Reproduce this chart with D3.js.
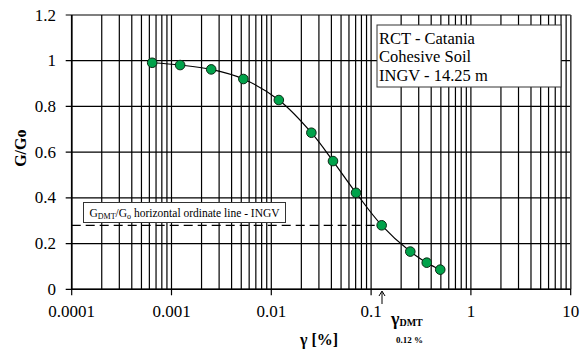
<!DOCTYPE html>
<html>
<head>
<meta charset="utf-8">
<script src="https://cdn.jsdelivr.net/npm/d3@7"></script>
<style>
  body { margin: 0; background: #fff; }
  svg text { font-family: "Liberation Serif", "DejaVu Serif", serif; }
</style>
</head>
<body>
<svg id="chart" width="587" height="352"></svg>
<script>
// shear strain (%) and normalized modulus from the RCT test
const strain = [0.00064, 0.00122, 0.0025, 0.00525, 0.0119, 0.0252, 0.0415, 0.0706, 0.1276, 0.247, 0.361, 0.493];
const modulus = [0.991, 0.981, 0.962, 0.920, 0.828, 0.685, 0.561, 0.422, 0.280, 0.165, 0.1165, 0.086];

const xTicks = [0.0001, 0.001, 0.01, 0.1, 1, 10];
const xTickLabels = ["0.0001", "0.001", "0.01", "0.1", "1", "10"];
const yTicks = [0, 0.2, 0.4, 0.6, 0.8, 1, 1.2];
const yTickLabels = ["0", "0.2", "0.4", "0.6", "0.8", "1", "1.2"];

const gammaDMT = 0.12;      // %
const ratioDMT = 0.28;      // G_DMT/Go

const legendLines = ["RCT - Catania", "Cohesive Soil", "INGV - 14.25 m"];

const serif = "Liberation Serif";

const svg = d3.select("#chart");

const x = d3.scaleLog().domain([0.0001, 10]).range([71.7, 570.7]);
const y = d3.scaleLinear().domain([0, 1.2]).range([289.3, 15]);

// vertical grid: every 1..9 of each decade
const vGrid = [];
for (let e = -4; e <= 0; e++) {
  for (let k = 1; k <= 9; k++) vGrid.push(k * Math.pow(10, e));
}
vGrid.push(10);

svg.append("g")
  .selectAll("line")
  .data(vGrid)
  .enter()
  .append("line")
  .attr("x1", d => x(d))
  .attr("x2", d => x(d))
  .attr("y1", y(1.2))
  .attr("y2", y(0))
  .attr("stroke", "#000")
  .attr("stroke-width", 1.2);

svg.append("g")
  .selectAll("line")
  .data(yTicks)
  .enter()
  .append("line")
  .attr("x1", x.range()[0] - 6)
  .attr("x2", x.range()[1])
  .attr("y1", d => y(d))
  .attr("y2", d => y(d))
  .attr("stroke", "#000")
  .attr("stroke-width", 1.2);

// plot frame
svg.append("line")
  .attr("x1", x.range()[1]).attr("x2", x.range()[1])
  .attr("y1", y(1.2)).attr("y2", y(0))
  .attr("stroke", "#444").attr("stroke-width", 1.3);
svg.append("line")
  .attr("x1", x.range()[0]).attr("x2", x.range()[0])
  .attr("y1", y(1.2)).attr("y2", y(0))
  .attr("stroke", "#000").attr("stroke-width", 1.6);
svg.append("line")
  .attr("x1", x.range()[0]).attr("x2", x.range()[1])
  .attr("y1", y(0)).attr("y2", y(0))
  .attr("stroke", "#000").attr("stroke-width", 1.6);

// decade ticks below the x axis
svg.append("g")
  .selectAll("line")
  .data(xTicks)
  .enter()
  .append("line")
  .attr("x1", d => x(d)).attr("x2", d => x(d))
  .attr("y1", y(0)).attr("y2", y(0) + 6)
  .attr("stroke", "#000").attr("stroke-width", 1.2);

svg.append("g")
  .selectAll("text")
  .data(xTicks)
  .enter()
  .append("text")
  .attr("x", d => x(d))
  .attr("y", 317)
  .attr("text-anchor", "middle")
  .attr("font-family", serif)
  .attr("font-size", 17)
  .text((d, i) => xTickLabels[i]);

svg.append("g")
  .selectAll("text")
  .data(yTicks)
  .enter()
  .append("text")
  .attr("x", 56)
  .attr("y", d => y(d) + 5.5)
  .attr("text-anchor", "end")
  .attr("font-family", serif)
  .attr("font-size", 17)
  .text((d, i) => yTickLabels[i]);

// axis titles
svg.append("text")
  .attr("transform", `translate(26, ${y(0.6) - 4}) rotate(-90)`)
  .attr("text-anchor", "middle")
  .attr("font-family", serif)
  .attr("font-size", 16)
  .attr("font-weight", "bold")
  .text("G/Go");

svg.append("text")
  .attr("x", 319)
  .attr("y", 345)
  .attr("text-anchor", "middle")
  .attr("font-family", serif)
  .attr("font-size", 16)
  .attr("font-weight", "bold")
  .text("γ [%]");

// G_DMT/Go reference line
svg.append("line")
  .attr("x1", x.range()[0]).attr("x2", x(gammaDMT) + 3)
  .attr("y1", y(ratioDMT)).attr("y2", y(ratioDMT))
  .attr("stroke", "#000")
  .attr("stroke-width", 1.3)
  .attr("stroke-dasharray", "9 5");

const note = svg.append("g").attr("transform", "translate(83.5, 202.5)");
note.append("rect")
  .attr("width", 202).attr("height", 20)
  .attr("fill", "#fff").attr("stroke", "#333").attr("stroke-width", 1);
const noteText = note.append("text")
  .attr("x", 6).attr("y", 14)
  .attr("font-family", serif)
  .attr("font-size", 11.5);
noteText.append("tspan").text("G");
noteText.append("tspan").attr("font-size", 8).attr("dy", 2).text("DMT");
noteText.append("tspan").attr("dy", -2).text("/G");
noteText.append("tspan").attr("font-size", 8).attr("dy", 2).text("o");
noteText.append("tspan").attr("dy", -2).text(" horizontal ordinate line - INGV");

// gamma DMT arrow
const ax = x(gammaDMT) + 3;
svg.append("line")
  .attr("x1", ax).attr("x2", ax)
  .attr("y1", 292).attr("y2", 304)
  .attr("stroke", "#000").attr("stroke-width", 1);
svg.append("path")
  .attr("d", `M${ax - 3},${296} L${ax},${291} L${ax + 3},${296}`)
  .attr("fill", "none").attr("stroke", "#000").attr("stroke-width", 1);

const gLabel = svg.append("text")
  .attr("x", 391).attr("y", 325)
  .attr("font-family", serif)
  .attr("font-weight", "bold")
  .attr("font-size", 18);
gLabel.append("tspan").text("γ");
gLabel.append("tspan").attr("font-size", 10).attr("dy", 1).text("DMT");

svg.append("text")
  .attr("x", 396).attr("y", 343)
  .attr("font-family", serif)
  .attr("font-weight", "bold")
  .attr("font-size", 9)
  .text(gammaDMT + " %");

// legend box
const legend = svg.append("g").attr("transform", "translate(377, 25)");
legend.append("rect")
  .attr("width", 184).attr("height", 62)
  .attr("fill", "#fff").attr("stroke", "#333").attr("stroke-width", 1);
legend.selectAll("text")
  .data(legendLines)
  .enter()
  .append("text")
  .attr("x", 2)
  .attr("y", (d, i) => 18.5 + i * 18.5)
  .attr("font-family", serif)
  .attr("font-size", 16.5)
  .text(d => d);

// data curve
const points = strain.map((s, i) => [s, modulus[i]]);

const line = d3.line()
  .x(d => x(d[0]))
  .y(d => y(d[1]))
  .curve(d3.curveCatmullRom);

svg.append("path")
  .attr("d", line(points))
  .attr("fill", "none")
  .attr("stroke", "#000")
  .attr("stroke-width", 1.2);

svg.append("g")
  .selectAll("circle")
  .data(points)
  .enter()
  .append("circle")
  .attr("cx", d => x(d[0]))
  .attr("cy", d => y(d[1]))
  .attr("r", 4.8)
  .attr("fill", "#00a24a")
  .attr("stroke", "#0b2a14")
  .attr("stroke-width", 1);
</script>
</body>
</html>
